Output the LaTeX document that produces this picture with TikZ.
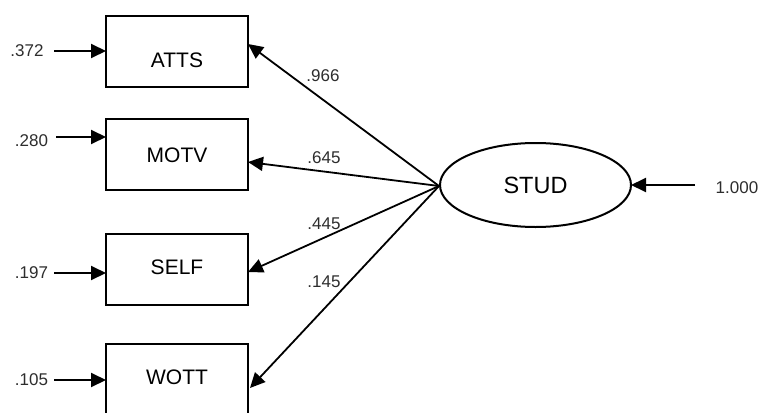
\documentclass[tikz,border=0pt]{standalone}
\usepackage{fontspec}
\setmainfont{Liberation Sans}
\usetikzlibrary{arrows.meta,shapes.geometric}
\definecolor{numgray}{RGB}{45,45,45}
\begin{document}
\begin{tikzpicture}[x=1pt,y=-1pt,
  obsbox/.style={draw,line width=2pt,minimum width=142pt,minimum height=71pt,inner sep=0pt,outer sep=0pt},
  boxtext/.style={font=\fontsize{21}{24}\selectfont,inner sep=0pt},
  latent/.style={draw,ellipse,line width=2pt,minimum width=191pt,minimum height=84pt,inner sep=0pt,outer sep=0pt,font=\fontsize{23.5}{26}\selectfont},
  num/.style={font=\fontsize{17}{19}\selectfont,text=numgray,inner sep=0pt},
  arr/.style={line width=2pt,-{Triangle[length=15pt,width=14pt]}},
  path/.style={line width=1.8pt,-{Triangle[length=15pt,width=14pt]}}]
\useasboundingbox (0,0) rectangle (759,412);
\clip (0,0) rectangle (759,412);

% observed indicators
\node[obsbox] (atts) at (177,51.5) {};
\node[boxtext] (attsT) at (177,60) {ATTS};
\node[obsbox] (motv) at (177,154.5) {};
\node[boxtext] (motvT) at (177,155) {MOTV};
\node[obsbox] (self) at (177,269.5) {};
\node[boxtext] (selfT) at (177,267) {SELF};
\node[obsbox] (wott) at (177,379.5) {};
\node[boxtext] (wottT) at (177,377) {WOTT};

% latent factor
\node[latent] (stud) at (535.5,185) {STUD};

% error terms on the left
\node[num] (eAl) at (27,51) {.372};
\node[num] (eMl) at (31.5,141) {.280};
\node[num] (eSl) at (31.5,273) {.197};
\node[num] (eWl) at (31.5,380) {.105};
\coordinate (eA) at (54,51);
\coordinate (eM) at (56,137);
\coordinate (eS) at (54,273);
\coordinate (eW) at (54,380);
\draw[arr] (eA) -- (eA -| atts.west);
\draw[arr] (eM) -- (eM -| motv.west);
\draw[arr] (eS) -- (eS -| self.west);
\draw[arr] (eW) -- (eW -| wott.west);

% disturbance of the factor
\node[num] (dl) at (737,188) {1.000};
\coordinate (d) at (695,185);
\draw[arr] (d) -- (stud.east);

% factor loadings
\coordinate (s) at (439,186);
\draw[path] (s) -- ([yshift=7.5pt]atts.east);
\draw[path] (s) -- ([yshift=-7.5pt]motv.east);
\draw[path] (s) -- ([yshift=-2.5pt]self.east);
\draw[path] (s) -- ([yshift=-8.5pt,xshift=2pt]wott.east);
\node[num] (lA) at (323,76) {.966};
\node[num] (lM) at (324,158) {.645};
\node[num] (lS) at (324,224) {.445};
\node[num] (lW) at (324,282) {.145};
\end{tikzpicture}
\end{document}
